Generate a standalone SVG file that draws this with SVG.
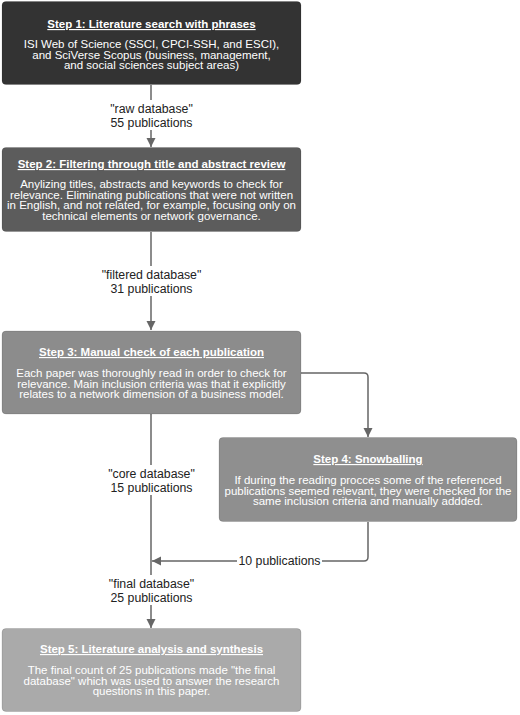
<svg xmlns="http://www.w3.org/2000/svg" width="520" height="715" viewBox="0 0 520 715">
<defs>
<marker id="ah" viewBox="0 0 10 10" refX="10" refY="5" markerWidth="6" markerHeight="6.5" markerUnits="strokeWidth" orient="auto">
<path d="M0,0 L10,5 L0,10 z" fill="#666"/>
</marker>
</defs>
<style>
text{font-family:"Liberation Sans",Arial,sans-serif;}
.t{font-size:11.5px;font-weight:bold;fill:#fff;text-decoration:underline;text-anchor:middle;}
.b{font-size:11.5px;fill:#fff;text-anchor:middle;}
.l{font-size:12.3px;fill:#222;text-anchor:middle;}
.c{fill:none;stroke:#666;stroke-width:1.5;}
.box{stroke:rgba(0,0,0,0.12);stroke-width:1;}
</style>
<rect width="520" height="715" fill="#fff"/>
<g id="connectors">
<path class="c" d="M151,85 V147" marker-end="url(#ah)"/>
<path class="c" d="M151,232 V330" marker-end="url(#ah)"/>
<path class="c" d="M301,373 H364 Q368,373 368,377 V437" marker-end="url(#ah)"/>
<path class="c" d="M151,414 V628" marker-end="url(#ah)"/>
<path class="c" d="M368,522 V557 Q368,561 364,561 H152" marker-end="url(#ah)"/>
<rect x="237" y="553" width="85" height="16" fill="#fff"/>
<text class="l" x="279.5" y="565">10 publications</text>
<rect x="108" y="100" width="87" height="30" fill="#fff"/>
<text class="l" x="151.5" y="113">"raw database"</text>
<text class="l" x="151.5" y="126.5">55 publications</text>
<rect x="99" y="266" width="105" height="30" fill="#fff"/>
<text class="l" x="151.5" y="279">"filtered database"</text>
<text class="l" x="151.5" y="292.5">31 publications</text>
<rect x="105" y="465" width="93" height="30" fill="#fff"/>
<text class="l" x="151.5" y="478">"core database"</text>
<text class="l" x="151.5" y="491.5">15 publications</text>
<rect x="106" y="575" width="91" height="30" fill="#fff"/>
<text class="l" x="151.5" y="588">"final database"</text>
<text class="l" x="151.5" y="601.5">25 publications</text>
</g>
<g id="step1">
<rect class="box" x="2" y="1.5" width="299" height="83" rx="4" fill="#333"/>
<text class="t" x="151.5" y="28">Step 1: Literature search with phrases</text>
<text class="b" x="151.5" y="48">ISI Web of Science (SSCI, CPCI-SSH, and ESCI),</text>
<text class="b" x="151.5" y="58.7">and SciVerse Scopus (business, management,</text>
<text class="b" x="151.5" y="69.4">and social sciences subject areas)</text>
</g>
<g id="step2">
<rect class="box" x="2" y="147.5" width="299" height="84" rx="4" fill="#5c5c5c"/>
<text class="t" x="151.5" y="168">Step 2: Filtering through title and abstract review</text>
<text class="b" x="151.5" y="188">Anylizing titles, abstracts and keywords to check for</text>
<text class="b" x="151.5" y="198.7">relevance. Eliminating publications that were not written</text>
<text class="b" x="151.5" y="209.4">in English, and not related, for example, focusing only on</text>
<text class="b" x="151.5" y="220.1">technical elements or network governance.</text>
</g>
<g id="step3">
<rect class="box" x="2" y="331" width="299" height="83" rx="4" fill="#8c8c8c"/>
<text class="t" x="151.5" y="356">Step 3: Manual check of each publication</text>
<text class="b" x="151.5" y="377">Each paper was thoroughly read in order to check for</text>
<text class="b" x="151.5" y="387.7">relevance. Main inclusion criteria was that it explicitly</text>
<text class="b" x="151.5" y="398.4">relates to a network dimension of a business model.</text>
</g>
<g id="step4">
<rect class="box" x="219" y="437.5" width="298" height="84" rx="4" fill="#8f8f8f"/>
<text class="t" x="368" y="463">Step 4: Snowballing</text>
<text class="b" x="368" y="484">If during the reading procces some of the referenced</text>
<text class="b" x="368" y="494.7">publications seemed relevant, they were checked for the</text>
<text class="b" x="368" y="505.4">same inclusion criteria and manually addded.</text>
</g>
<g id="step5">
<rect class="box" x="2" y="628.5" width="299" height="83" rx="4" fill="#aaaaaa"/>
<text class="t" x="151.5" y="653">Step 5: Literature analysis and synthesis</text>
<text class="b" x="151.5" y="674">The final count of 25 publications made "the final</text>
<text class="b" x="151.5" y="684.7">database" which was used to answer the research</text>
<text class="b" x="151.5" y="695.4">questions in this paper.</text>
</g>
</svg>
